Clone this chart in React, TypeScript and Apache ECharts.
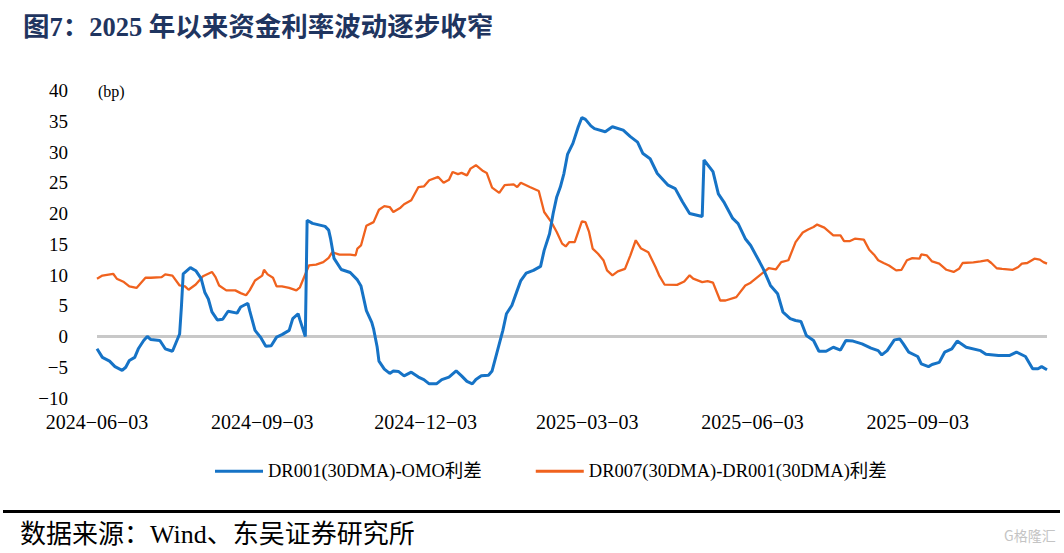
import React, { useEffect, useRef } from 'react';
import * as echarts from 'echarts';

// ---- data ----
const START_DATE = '2024-06-03';
const DAY_COUNT = 530; // calendar days 2024-06-03 .. 2025-11-14
const tickDates = ['2024-06-03', '2024-09-03', '2024-12-03', '2025-03-03', '2025-06-03', '2025-09-03'];
const yMin = -10;
const yMax = 40;
const yStep = 5;

const legendNames = ['DR001(30DMA)-OMO利差', 'DR007(30DMA)-DR001(30DMA)利差'];

// day offsets from START_DATE
const blueDays = [0, 3, 7, 10, 14, 16, 18, 21, 23, 26, 28, 30, 35, 38, 42, 43, 46, 47, 48, 52, 55, 58, 60, 62, 64, 67, 70, 73, 78, 80, 84, 85, 88, 91, 94, 97, 100, 103, 107, 109, 112, 113, 116, 117, 120, 127, 129, 130, 132, 136, 141, 145, 147, 150, 153, 154, 156, 157, 160, 163, 165, 168, 171, 175, 179, 182, 185, 189, 192, 196, 200, 203, 206, 209, 211, 214, 218, 220, 222, 224, 226, 228, 231, 234, 236, 239, 243, 247, 249, 252, 254, 256, 258, 260, 262, 265, 268, 270, 272, 275, 277, 283, 287, 293, 297, 301, 304, 308, 312, 318, 322, 326, 330, 337, 338, 343, 346, 349, 354, 357, 361, 364, 369, 371, 375, 379, 382, 386, 389, 392, 395, 399, 402, 406, 410, 414, 417, 421, 426, 431, 435, 437, 440, 444, 447, 449, 452, 457, 459, 463, 465, 469, 472, 476, 479, 484, 492, 495, 502, 508, 512, 517, 521, 524, 526, 529];
const blueValues = [-2.0, -3.4, -4.0, -4.9, -5.5, -5.0, -3.9, -3.4, -2.0, -0.65, 0, -0.5, -0.65, -2.0, -2.4, -1.7, 0.4, 4.8, 10.2, 11.2, 10.7, 9.4, 7.2, 6.1, 4.0, 2.7, 2.8, 4.1, 3.8, 4.8, 5.4, 4.2, 1.0, -0.1, -1.6, -1.5, -0.1, 0.3, 1.0, 2.9, 3.7, 2.7, 0, 18.9, 18.4, 17.9, 17.3, 16.0, 12.7, 10.9, 10.4, 9.2, 8.2, 4.2, 2.3, 1.25, -1.7, -4.0, -5.3, -6.0, -5.6, -5.7, -6.4, -5.8, -6.6, -7.0, -7.7, -7.7, -7.0, -6.6, -5.6, -6.4, -7.3, -7.7, -7.0, -6.4, -6.3, -5.6, -3.4, -1.2, 1.0, 3.7, 5.05, 7.5, 9.1, 10.3, 10.75, 11.4, 14.0, 16.7, 20.0, 22.7, 24.3, 26.5, 29.6, 31.4, 34.1, 35.6, 35.3, 34.25, 33.8, 33.3, 34.1, 33.55, 32.5, 31.6, 29.75, 28.9, 26.5, 24.6, 24.05, 21.9, 20.0, 19.5, 28.7, 26.8, 23.2, 21.9, 19.2, 18.35, 15.9, 14.8, 12.1, 11.0, 8.3, 6.95, 3.95, 2.9, 2.6, 2.45, 0.16, -0.65, -2.4, -2.4, -1.75, -2.2, -0.65, -0.75, -1.2, -1.9, -2.3, -3.0, -2.3, -0.55, -0.4, -1.2, -2.55, -3.25, -4.45, -4.9, -4.55, -4.2, -2.55, -2.0, -0.75, -1.75, -2.3, -2.9, -3.1, -3.1, -2.55, -3.25, -5.25, -5.25, -4.9, -5.4];

const orangeDays = [0, 3, 9, 11, 15, 18, 22, 27, 30, 36, 38, 42, 46, 49, 51, 55, 59, 64, 66, 68, 72, 77, 80, 83, 85, 88, 92, 93, 95, 98, 100, 103, 107, 111, 113, 118, 122, 126, 129, 131, 135, 141, 144, 145, 147, 150, 154, 157, 160, 163, 165, 169, 171, 175, 179, 182, 185, 190, 193, 196, 198, 201, 203, 206, 208, 211, 215, 217, 220, 224, 227, 232, 234, 236, 241, 246, 249, 253, 256, 259, 261, 263, 266, 270, 272, 274, 276, 279, 282, 284, 287, 290, 294, 297, 300, 303, 307, 311, 313, 316, 323, 327, 330, 332, 337, 340, 343, 347, 350, 356, 361, 364, 369, 374, 378, 381, 385, 389, 393, 396, 399, 401, 405, 410, 414, 416, 419, 422, 427, 430, 433, 435, 438, 441, 445, 448, 451, 454, 458, 459, 462, 465, 469, 473, 477, 480, 482, 488, 492, 496, 498, 501, 504, 510, 513, 515, 518, 522, 525, 527, 529];
const orangeValues = [9.4, 9.9, 10.2, 9.4, 8.85, 8.15, 7.9, 9.55, 9.55, 9.65, 10.1, 9.9, 8.3, 8.15, 7.6, 8.45, 9.8, 10.5, 9.65, 8.3, 7.5, 7.5, 7.05, 6.7, 7.5, 9.1, 9.9, 10.85, 10.1, 9.55, 8.15, 8.15, 7.9, 7.5, 8.0, 11.55, 11.7, 12.1, 12.8, 13.7, 13.3, 13.3, 13.2, 14.3, 14.8, 18.0, 18.6, 20.6, 21.2, 21.05, 20.25, 20.95, 21.5, 22.15, 24.3, 24.4, 25.4, 25.95, 25.0, 25.5, 26.75, 26.4, 26.6, 26.2, 27.3, 27.85, 26.9, 26.6, 24.2, 23.35, 24.6, 24.75, 24.3, 25.0, 24.3, 23.65, 20.25, 18.6, 17.0, 15.1, 14.65, 15.35, 15.35, 18.7, 18.6, 17.0, 14.3, 13.45, 12.4, 10.75, 9.95, 10.6, 11.0, 13.2, 15.65, 14.3, 13.7, 11.3, 9.95, 8.45, 8.4, 8.95, 9.95, 9.4, 8.85, 9.0, 8.75, 5.85, 5.85, 6.4, 8.3, 8.75, 9.95, 11.1, 10.9, 12.1, 12.4, 15.35, 16.9, 17.4, 17.8, 18.2, 17.7, 16.45, 16.45, 15.5, 15.5, 15.9, 15.75, 14.1, 13.2, 12.4, 11.95, 11.55, 10.75, 10.85, 12.4, 12.75, 12.65, 13.35, 13.2, 12.2, 11.85, 10.85, 10.5, 11.0, 11.95, 12.05, 12.2, 12.4, 11.95, 11.1, 11.0, 10.85, 11.3, 11.85, 11.95, 12.65, 12.5, 12.1, 11.85];

const SERIF = '"Times New Roman", "Liberation Serif", "Noto Sans CJK SC", serif';

function buildCategories(): string[] {
  const out: string[] = [];
  const [y, m, d] = START_DATE.split('-').map(Number);
  const base = Date.UTC(y, m - 1, d);
  for (let i = 0; i < DAY_COUNT; i++) {
    const dt = new Date(base + i * 86400000);
    const mm = String(dt.getUTCMonth() + 1).padStart(2, '0');
    const dd = String(dt.getUTCDate()).padStart(2, '0');
    out.push(`${dt.getUTCFullYear()}-${mm}-${dd}`);
  }
  return out;
}

export default function App() {
  const ref = useRef<HTMLDivElement>(null);

  useEffect(() => {
    if (!ref.current) return;
    const chart = echarts.init(ref.current, null, { renderer: 'svg' });
    const categories = buildCategories();
    const tickSet = new Set(tickDates);
    const minus = (s: string) => s.replace(/-/g, '\u2212');

    chart.setOption({
      animation: false,
      backgroundColor: '#ffffff',
      title: {
        text: '图7：2025 年以来资金利率波动逐步收窄',
        left: 18,
        top: 9,
        textStyle: { fontFamily: SERIF, fontSize: 26.5, fontWeight: 'bold', color: '#1F3560' },
      },
      grid: { left: 97, right: 17, top: 90.5, bottom: 155, containLabel: false },
      legend: {
        left: 210,
        top: 457,
        icon: 'rect',
        itemWidth: 48,
        itemHeight: 3,
        itemGap: 54,
        textStyle: { fontFamily: SERIF, fontSize: 18.5, color: '#000' },
        data: legendNames,
      },
      xAxis: {
        type: 'category',
        data: categories,
        boundaryGap: false,
        axisLine: { show: false, onZero: false },
        axisTick: { show: false },
        splitLine: { show: false },
        axisLabel: {
          interval: (_i: number, v: string) => tickSet.has(v),
          formatter: (v: string) => minus(v),
          fontFamily: SERIF,
          fontSize: 20,
          color: '#000',
          margin: 14,
        },
      },
      yAxis: {
        type: 'value',
        min: yMin,
        max: yMax,
        interval: yStep,
        axisLine: { show: false },
        axisTick: { show: false },
        splitLine: { show: false },
        axisLabel: {
          fontFamily: SERIF,
          fontSize: 19,
          color: '#000',
          margin: 29,
          formatter: (v: number) => minus(String(v)),
        },
      },
      graphic: [
        {
          type: 'text',
          left: 98,
          top: 83,
          style: { text: '(bp)', font: `16px ${SERIF}`, fill: '#000' },
        },
        {
          type: 'rect',
          shape: { x: 3, y: 510, width: 1057, height: 3 },
          style: { fill: '#000' },
        },
        {
          type: 'text',
          left: 20,
          top: 521,
          style: { text: '数据来源：Wind、东吴证券研究所', font: `26px ${SERIF}`, fill: '#000' },
        },
        {
          type: 'text',
          left: 1004,
          top: 528,
          style: { text: 'G格隆汇', font: `14px "Noto Sans CJK SC", sans-serif`, fill: '#c4c4c4' },
        },
      ],
      series: [
        {
          name: legendNames[0],
          type: 'line',
          symbol: 'none',
          showSymbol: false,
          z: 3,
          data: blueDays.map((d, i) => [d, blueValues[i]]),
          lineStyle: { color: '#1673C6', width: 3 },
          itemStyle: { color: '#1673C6' },
          markLine: {
            silent: true,
            symbol: 'none',
            label: { show: false },
            lineStyle: { color: '#C8C8C8', width: 3, type: 'solid' },
            data: [{ yAxis: 0 }],
            z: 1,
          },
        },
        {
          name: legendNames[1],
          type: 'line',
          symbol: 'none',
          showSymbol: false,
          z: 2,
          data: orangeDays.map((d, i) => [d, orangeValues[i]]),
          lineStyle: { color: '#F0621E', width: 2.3 },
          itemStyle: { color: '#F0621E' },
        },
      ],
    });
    return () => chart.dispose();
  }, []);

  return (
    <div
      ref={ref}
      style={{ position: 'fixed', left: 0, top: 0, width: 1064, height: 553, background: '#fff' }}
    />
  );
}
